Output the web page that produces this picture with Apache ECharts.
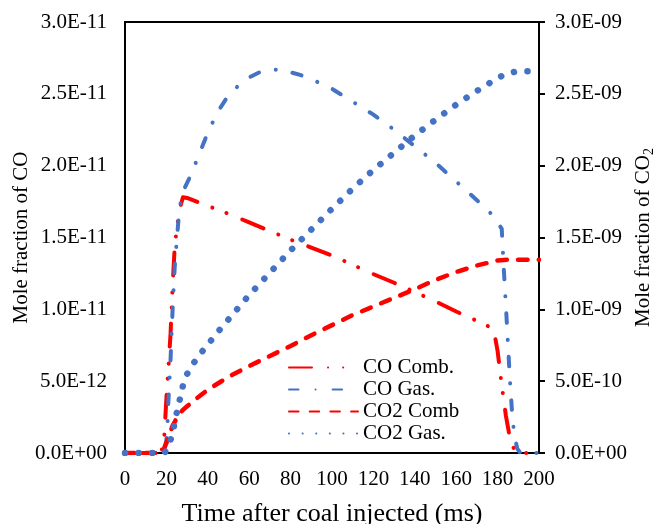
<!DOCTYPE html>
<html>
<head>
<meta charset="utf-8">
<script src="https://cdn.jsdelivr.net/npm/echarts@6/dist/echarts.min.js"></script>
<style>
html,body{margin:0;padding:0;background:#fff;}
#chart{width:657px;height:524px;}
</style>
</head>
<body>
<div id="chart"></div>
<script>
// ---- Data (time in ms) ----
const seriesNames = ['CO Comb.', 'CO Gas.', 'CO2 Comb', 'CO2 Gas.'];

// CO Comb. (left axis, units of 1E-12)
const coCombTime = [0, 5, 10, 15, 17, 18, 19, 20, 21, 22, 23, 24, 25, 26, 27, 28, 30, 40, 50, 60, 70, 80, 90, 100, 110, 120, 130, 140, 150, 160, 170, 178, 179, 180, 182, 184, 186, 188, 190, 195, 200];
const coCombVal  = [0, 0, 0, 0, 0, 0.3, 1.2, 3.8, 6.0, 8.3, 11.6, 14.3, 15.6, 16.6, 17.3, 17.8, 17.75, 17.2, 16.65, 16.05, 15.45, 14.85, 14.3, 13.75, 13.1, 12.45, 11.85, 11.2, 10.55, 9.85, 9.2, 8.65, 7.9, 7.1, 4.7, 2.6, 1.0, 0.25, 0, 0, 0];

// CO Gas. (left axis, units of 1E-12)
const coGasTime = [0, 5, 10, 15, 18, 19, 20, 20.5, 21, 22, 23, 24, 25, 26, 27, 28, 30, 32, 35, 40, 45, 50, 55, 60, 65, 70, 75, 80, 85, 90, 95, 100, 110, 120, 130, 140, 150, 160, 170, 178, 182, 183, 184, 185, 186, 187, 188, 189.5, 191, 195, 200];
const coGasVal  = [0, 0, 0, 0, 0, 0.2, 0.9, 2.0, 3.7, 6.5, 10.0, 12.9, 14.8, 16.5, 17.6, 18.2, 18.8, 19.4, 20.5, 22.3, 23.8, 24.9, 25.6, 26.15, 26.5, 26.65, 26.7, 26.5, 26.3, 26.0, 25.7, 25.35, 24.45, 23.55, 22.5, 21.35, 20.2, 18.9, 17.6, 16.5, 15.6, 12.8, 10.3, 7.6, 5.0, 2.8, 1.3, 0.3, 0, 0, 0];

// CO2 Comb (right axis, units of 1E-9)
const co2CombTime = [0, 5, 10, 15, 17, 18, 19, 20, 21, 22, 23, 24, 25, 26, 28, 30, 35, 40, 50, 60, 70, 80, 90, 100, 110, 120, 130, 140, 150, 160, 170, 180, 185, 190, 195, 200];
const co2CombVal  = [0, 0, 0, 0, 0, 0.01, 0.035, 0.07, 0.11, 0.15, 0.19, 0.215, 0.245, 0.27, 0.30, 0.325, 0.385, 0.44, 0.53, 0.605, 0.675, 0.745, 0.82, 0.89, 0.96, 1.02, 1.08, 1.14, 1.205, 1.26, 1.305, 1.34, 1.346, 1.345, 1.345, 1.345];

// CO2 Gas. (right axis, units of 1E-9)
const co2GasTime = [0, 5, 10, 15, 19, 20, 21, 22, 23, 24, 25, 26, 27, 28, 30, 32, 35, 40, 45, 50, 60, 70, 80, 90, 100, 110, 120, 130, 140, 150, 160, 170, 180, 185, 190, 195, 200];
const co2GasVal  = [0, 0, 0, 0, 0, 0.02, 0.05, 0.09, 0.14, 0.21, 0.28, 0.34, 0.41, 0.47, 0.55, 0.60, 0.665, 0.755, 0.845, 0.93, 1.10, 1.255, 1.41, 1.555, 1.70, 1.84, 1.97, 2.09, 2.21, 2.32, 2.425, 2.52, 2.61, 2.645, 2.657, 2.657, 2.657];

const xTicks = [0, 20, 40, 60, 80, 100, 120, 140, 160, 180, 200];
const leftTicks = [0, 5e-12, 1e-11, 1.5e-11, 2e-11, 2.5e-11, 3e-11];
const rightTicks = [0, 5e-10, 1e-9, 1.5e-9, 2e-9, 2.5e-9, 3e-9];

function pairs(t, v, scale) { return t.map((x, i) => [x, v[i] * scale]); }
function sci(v) {
  if (Math.abs(v) < 1e-30) return '0.0E+00';
  const parts = v.toExponential(1).split('e');
  const n = parseInt(parts[1], 10);
  return parts[0] + 'E' + (n < 0 ? '-' : '+') + String(Math.abs(n)).padStart(2, '0');
}

const FONT = '"Liberation Serif", "Times New Roman", serif';
const RED = '#FF0000', BLUE = '#4472C4';

const chart = echarts.init(document.getElementById('chart'), null, {renderer: 'canvas'});
chart.setOption({
  animation: false,
  backgroundColor: '#fff',
  textStyle: {fontFamily: FONT, color: '#000'},
  grid: {left: 125, right: 118, top: 22, bottom: 71, containLabel: false, outerBoundsMode: 'none',
         show: true, borderColor: '#000', borderWidth: 2, backgroundColor: 'transparent'},
  legend: {
    orient: 'vertical', left: 283, top: 352,
    itemWidth: 69, itemHeight: 14, itemGap: 1,
    data: seriesNames,
    itemStyle: {opacity: 0},
    textStyle: {fontFamily: FONT, fontSize: 21, color: '#000', lineHeight: 20}
  },
  xAxis: {
    type: 'value', min: xTicks[0], max: xTicks[xTicks.length - 1], interval: xTicks[1] - xTicks[0],
    name: 'Time after coal injected (ms)', nameLocation: 'middle', nameGap: 48, nameMoveOverlap: false,
    nameTextStyle: {fontFamily: FONT, fontSize: 26, color: '#000'},
    axisLine: {show: true, onZero: false, lineStyle: {color: '#000', width: 2}},
    axisTick: {show: false},
    splitLine: {show: false},
    axisLabel: {fontFamily: FONT, fontSize: 21, color: '#000', margin: 16}
  },
  yAxis: [{
    type: 'value', min: leftTicks[0], max: leftTicks[leftTicks.length - 1], interval: leftTicks[1] - leftTicks[0],
    position: 'left',
    name: 'Mole fraction of CO', nameLocation: 'middle', nameGap: 93, nameRotate: 90, nameMoveOverlap: false,
    nameTextStyle: {fontFamily: FONT, fontSize: 21, color: '#000'},
    axisLine: {show: true, lineStyle: {color: '#000', width: 2}},
    axisTick: {show: false},
    splitLine: {show: false},
    axisLabel: {fontFamily: FONT, fontSize: 21, color: '#000', margin: 18, formatter: sci}
  }, {
    type: 'value', min: rightTicks[0], max: rightTicks[rightTicks.length - 1], interval: rightTicks[1] - rightTicks[0],
    position: 'right',
    name: '{m|Mole fraction of CO}{sub|2}', nameLocation: 'middle', nameGap: 91, nameRotate: 90, nameMoveOverlap: false,
    nameTextStyle: {fontFamily: FONT, fontSize: 21, color: '#000',
      rich: {
        m: {fontFamily: FONT, fontSize: 21, color: '#000', lineHeight: 26, verticalAlign: 'middle'},
        sub: {fontFamily: FONT, fontSize: 14, color: '#000', lineHeight: 14, verticalAlign: 'bottom'}
      }},
    axisLine: {show: true, lineStyle: {color: '#000', width: 2}},
    axisTick: {show: true, inside: false, length: 6, lineStyle: {color: '#000', width: 2}},
    splitLine: {show: false},
    axisLabel: {fontFamily: FONT, fontSize: 21, color: '#000', margin: 16, formatter: sci}
  }],
  series: [{
    name: seriesNames[0], type: 'line', yAxisIndex: 0, showSymbol: false, symbol: 'none',
    data: pairs(coCombTime, coCombVal, 1e-12),
    lineStyle: {color: RED, width: 4, type: [23, 16, 0.1, 15, 0.1, 17], cap: 'round', join: 'round'},
    itemStyle: {color: RED}
  }, {
    name: seriesNames[1], type: 'line', yAxisIndex: 0, showSymbol: false, symbol: 'none',
    data: pairs(coGasTime, coGasVal, 1e-12),
    lineStyle: {color: BLUE, width: 4, type: [9.5, 17, 0.1, 17], cap: 'round', join: 'round'},
    itemStyle: {color: BLUE}
  }, {
    name: seriesNames[2], type: 'line', yAxisIndex: 1, showSymbol: false, symbol: 'none',
    data: pairs(co2CombTime, co2CombVal, 1e-9),
    lineStyle: {color: RED, width: 4.5, type: [9.5, 11.2], cap: 'round', join: 'round'},
    itemStyle: {color: RED}
  }, {
    name: seriesNames[3], type: 'line', yAxisIndex: 1, showSymbol: false, symbol: 'none',
    data: pairs(co2GasTime, co2GasVal, 1e-9),
    lineStyle: {color: BLUE, width: 6.5, type: [0.1, 13.5], cap: 'round', join: 'round'},
    itemStyle: {color: BLUE}
  }]
});
</script>
</body>
</html>
